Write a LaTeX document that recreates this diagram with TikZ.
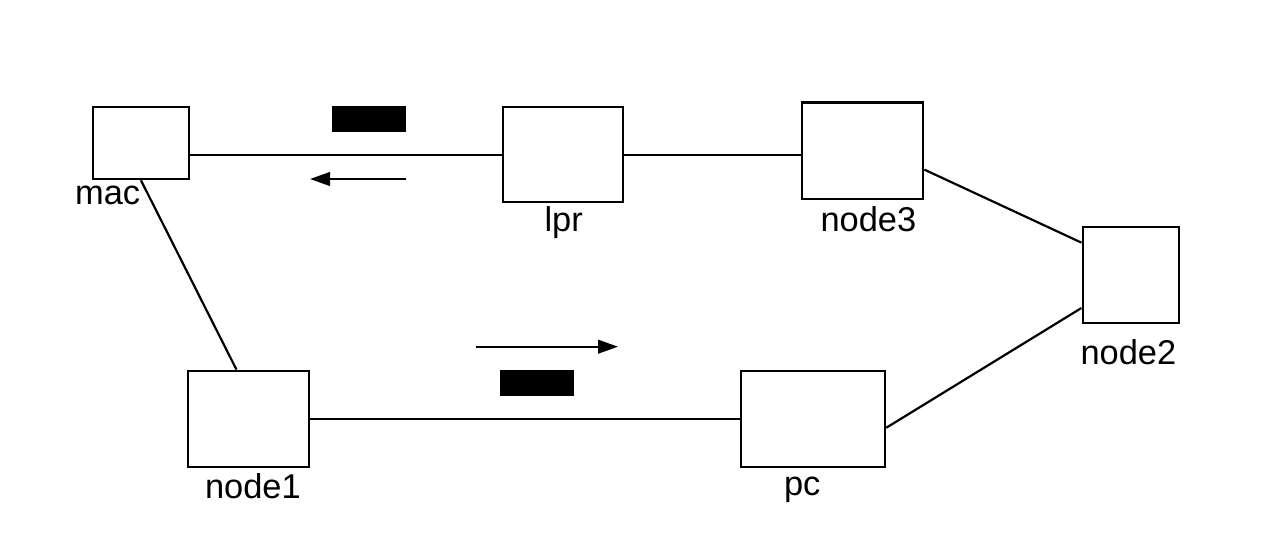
\documentclass[tikz,border=0pt]{standalone}
\usepackage{fontspec}
\setmainfont{Liberation Sans}
\usetikzlibrary{arrows.meta}

\begin{document}
\begin{tikzpicture}[x=0.5pt, y=-0.5pt, line width=1.1pt,
  box/.style={rectangle, draw},
  tag/.style={anchor=base west, inner sep=0pt, font=\fontsize{17.2}{20}\selectfont},
  bar/.style={rectangle, fill=black, inner sep=0pt, minimum width=36.8pt, minimum height=12.8pt},
  flow/.style={-{Triangle[length=10pt,width=6.8pt]}}]
  \useasboundingbox (0,0) rectangle (1272,534);
  \node (mac) [box, minimum width=48.2pt, minimum height=36.2pt] at (140.9,142.9) {};
  \node (lpr) [box, minimum width=60.3pt, minimum height=47.5pt] at (563,154.8) {};
  \node (node3) [box, minimum width=60.5pt, minimum height=48.2pt] at (862.8,150.8) {};
  \node (node2) [box, minimum width=48.2pt, minimum height=48pt] at (1130.8,274.7) {};
  \node (pc) [box, minimum width=72.2pt, minimum height=47.9pt] at (812.9,418.8) {};
  \node (node1) [box, minimum width=60.4pt, minimum height=48pt] at (248.7,418.7) {};
  \node (maclbl) [tag] at (74,205) {mac};
  \node (lprlbl) [tag] at (543.5,231.7) {lpr};
  \node (node3lbl) [tag] at (819.5,231.7) {node3};
  \node (node2lbl) [tag] at (1079.5,364) {node2};
  \node (pclbl) [tag] at (783,495) {pc};
  \node (node1lbl) [tag] at (204,498.3) {node1};
  \node (topbar) [bar] at (369,118.9) {};
  \node (lowbar) [bar] at (537,382.9) {};
  \draw (mac.east |- lpr.west) -- (lpr.west);
  \draw (lpr.east) -- (lpr.east -| node3.west);
  \draw (node3.-17) -- (node2.147);
  \draw (node2.214) -- (pc.-7.5);
  \draw (pc.west) -- (pc.west -| node1.east);
  \draw (node1.104) -- (mac.south);
  \coordinate (topfrom) at (406,179);
  \coordinate (topto) at (310,179);
  \coordinate (lowfrom) at (476,346.7);
  \coordinate (lowto) at (618,346.7);
  \draw[flow] (topfrom) -- (topto);
  \draw[flow] (lowfrom) -- (lowto);
\end{tikzpicture}
\end{document}
